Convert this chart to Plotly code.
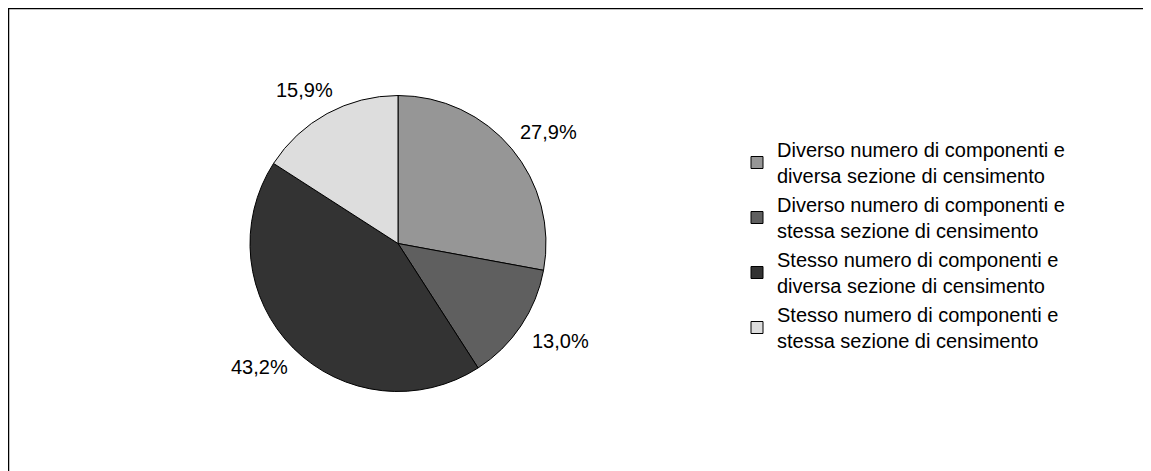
import math
import plotly.graph_objects as go

# ---- data ----
categories = [
    "Diverso numero di componenti e<br>diversa sezione di censimento",
    "Diverso numero di componenti e<br>stessa sezione di censimento",
    "Stesso numero di componenti e<br>diversa sezione di censimento",
    "Stesso numero di componenti e<br>stessa sezione di censimento",
]
values = [27.9, 13.0, 43.2, 15.9]
value_labels = ["27,9%", "13,0%", "43,2%", "15,9%"]
colors = ["#969696", "#5f5f5f", "#333333", "#dddddd"]

W, H = 1151, 471
FONT = "Liberation Sans, Arial, sans-serif"

# pie geometry (pixels, figure coordinates)
cx, cy, r = 390, 235.5, 148

fig = go.Figure(
    go.Pie(
        labels=categories,
        values=values,
        marker=dict(colors=colors, line=dict(color="#000000", width=1)),
        sort=False,
        direction="clockwise",
        rotation=0,
        textinfo="none",
        hoverinfo="label+percent",
        domain=dict(
            x=[(cx - r) / W, (cx + r) / W],
            y=[1 - (cy + r) / H, 1 - (cy - r) / H],
        ),
    )
)

# outside data labels placed along each slice's mid-angle
total = sum(values)
cum = 0.0
annotations = []
tw, th = 58, 15
R = r * 1.13
for v, lab in zip(values, value_labels):
    mid = (cum + v / 2) / total * 2 * math.pi
    cum += v
    s, c = math.sin(mid), math.cos(mid)
    px = cx + R * s + tw / 2 * s
    py = cy - R * c - th / 2 * c
    annotations.append(
        dict(
            x=px / W, y=1 - py / H, xref="paper", yref="paper",
            text=lab, showarrow=False, xanchor="center", yanchor="middle",
            font=dict(family=FONT, size=20, color="#000000"),
        )
    )

fig.update_layout(
    width=W, height=H,
    margin=dict(l=0, r=0, t=0, b=0),
    paper_bgcolor="#ffffff",
    plot_bgcolor="#ffffff",
    showlegend=True,
    legend=dict(
        x=729 / W, y=1 - 122 / H, xanchor="left", yanchor="top",
        font=dict(family=FONT, size=20, color="#000000"),
        bgcolor="rgba(0,0,0,0)",
        traceorder="normal",
        tracegroupgap=0,
    ),
    annotations=annotations,
    shapes=[
        dict(type="line", xref="paper", yref="paper",
             x0=0, y0=1, x1=1.05, y1=1,
             line=dict(color="#000000", width=2.5)),
        dict(type="line", xref="paper", yref="paper",
             x0=0, y0=-0.05, x1=0, y1=1,
             line=dict(color="#000000", width=2.5)),
    ],
)

fig.write_html("out.html")
